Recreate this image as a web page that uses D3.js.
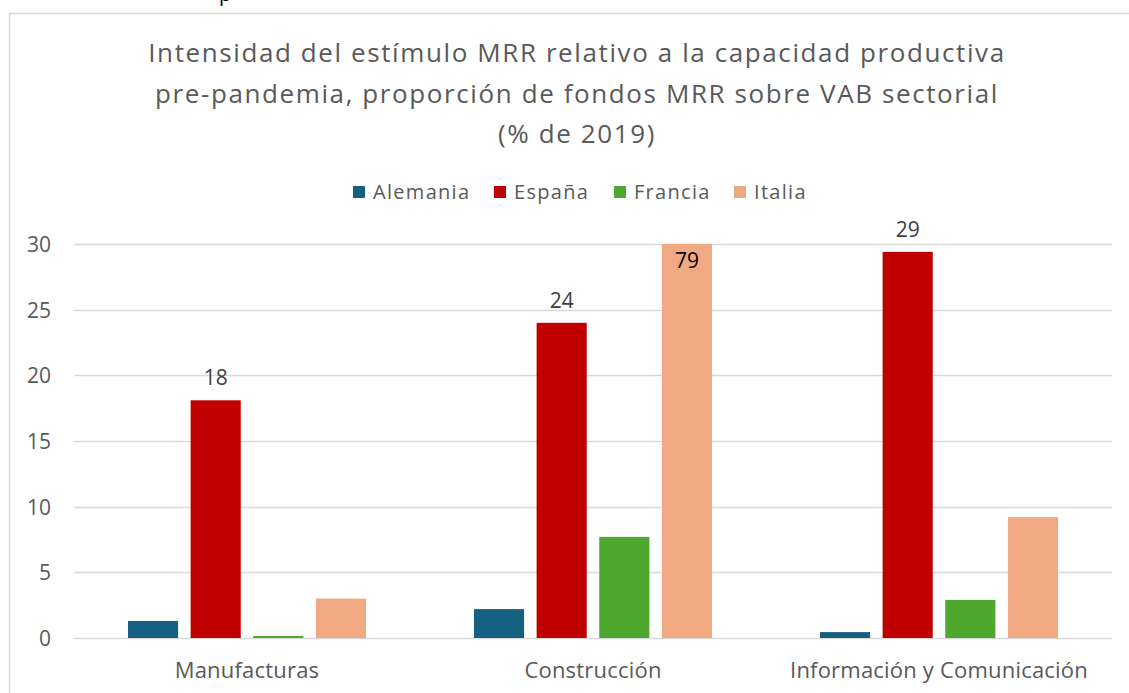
<!DOCTYPE html>
<html>
<head>
<meta charset="utf-8">
<script src="https://cdn.jsdelivr.net/npm/d3@7"></script>
<style>
  html, body { margin: 0; padding: 0; background: #fff; }
  svg { display: block; }
  text { font-family: "Open Sans", sans-serif; }
</style>
</head>
<body>
<svg id="chart" width="1129" height="693"></svg>
<script>
const categories = ["Manufacturas", "Construcción", "Información y Comunicación"];
const seriesNames = ["Alemania", "España", "Francia", "Italia"];
const alemania = [1.3, 2.2, 0.45];
const espana = [18.1, 24.0, 29.4];
const francia = [0.15, 7.7, 2.9];
const italia = [3.0, 79, 9.2];
const seriesValues = [alemania, espana, francia, italia];
const colors = ["#156082", "#C00000", "#4EA72E", "#F1A983"];
const yTicks = [0, 5, 10, 15, 20, 25, 30];
const titleLines = [
  "Intensidad del estímulo MRR relativo a la capacidad productiva",
  "pre-pandemia, proporción de fondos MRR sobre VAB sectorial",
  "(% de 2019)"
];
// data labels: [seriesIndex, categoryIndex, label, inside]
const dataLabels = [
  [1, 0, "18", false], [1, 1, "24", false], [1, 2, "29", false], [3, 1, "79", true]
];

const svg = d3.select("#chart");
const W = 1129, H = 693;
const margin = { left: 74, right: 17 };

// outer frame
svg.append("rect").attr("x", 9.5).attr("y", 13.5).attr("width", 1140).attr("height", 700)
  .attr("fill", "none").attr("stroke", "#d9d9d9").attr("stroke-width", 1.5);

// cut-off character from document above
svg.append("text").attr("x", 219).attr("y", 0.5).attr("font-family", "DejaVu Serif")
  .attr("font-size", 20).attr("fill", "#000").text("p");

// title
const title = svg.append("text").attr("text-anchor", "middle").attr("fill", "#595959")
  .attr("font-size", 26).attr("letter-spacing", 1.6);
titleLines.forEach((l, i) => {
  title.append("tspan").attr("x", 577).attr("y", 62 + i * 40.5).text(l);
});

// legend
const legendX = [353, 494, 614, 734];
const lg = svg.append("g");
seriesNames.forEach((s, i) => {
  lg.append("rect").attr("x", legendX[i]).attr("y", 186).attr("width", 12).attr("height", 12)
    .attr("fill", colors[i]);
  lg.append("text").attr("x", legendX[i] + 20).attr("y", 199).attr("font-size", 20)
    .attr("letter-spacing", 1.3).attr("fill", "#595959").text(s);
});

const x0 = d3.scaleBand().domain(categories).range([margin.left, W - margin.right])
  .paddingInner(0.312).paddingOuter(0.156);
const x1 = d3.scaleBand().domain(seriesNames).range([0, x0.bandwidth()]).paddingInner(0.2);
const y = d3.scaleLinear().domain([0, 30]).range([638, 244]).clamp(true);

// gridlines
svg.append("g").selectAll("line").data(yTicks).join("line")
  .attr("x1", margin.left).attr("x2", W - margin.right)
  .attr("y1", d => Math.round(y(d)) + 0.5).attr("y2", d => Math.round(y(d)) + 0.5)
  .attr("stroke", "#d9d9d9").attr("stroke-width", 1.5);

// y tick labels
svg.append("g").selectAll("text").data(yTicks).join("text")
  .attr("x", 51).attr("y", d => y(d) + 8).attr("text-anchor", "end")
  .attr("font-size", 21).attr("fill", "#595959").text(d => d);

// bars
const g = svg.append("g");
seriesNames.forEach((s, si) => {
  g.append("g").selectAll("rect").data(categories).join("rect")
    .attr("x", c => x0(c) + x1(s))
    .attr("width", x1.bandwidth())
    .attr("y", (c, ci) => y(seriesValues[si][ci]))
    .attr("height", (c, ci) => y(0) - y(seriesValues[si][ci]))
    .attr("fill", colors[si]);
});

// data labels
dataLabels.forEach(([si, ci, lab, inside]) => {
  const c = categories[ci];
  const cx = x0(c) + x1(seriesNames[si]) + x1.bandwidth() / 2;
  const yy = y(seriesValues[si][ci]);
  svg.append("text").attr("x", cx).attr("y", inside ? yy + 24 : yy - 15)
    .attr("text-anchor", "middle").attr("font-size", 21)
    .attr("fill", inside ? "#000" : "#404040").text(lab);
});

// category labels
svg.append("g").selectAll("text").data(categories).join("text")
  .attr("x", c => x0(c) + x0.bandwidth() / 2).attr("y", 678)
  .attr("text-anchor", "middle").attr("font-size", 22).attr("letter-spacing", 0.2)
  .attr("fill", "#595959").text(c => c);
</script>
</body>
</html>
